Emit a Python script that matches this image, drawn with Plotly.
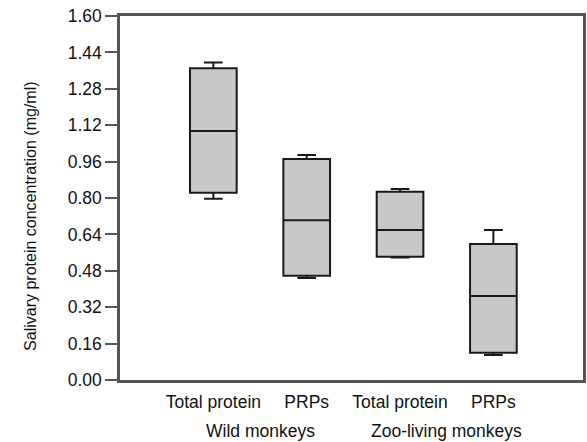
import plotly.graph_objects as go

categories = ["Total protein", "PRPs", "Total protein", "PRPs"]
groups = ["Wild monkeys", "Zoo-living monkeys"]
lower_whisker = [0.797, 0.448, 0.538, 0.110]
q1 = [0.823, 0.458, 0.542, 0.120]
median = [1.094, 0.702, 0.659, 0.369]
q3 = [1.370, 0.971, 0.828, 0.598]
upper_whisker = [1.396, 0.989, 0.840, 0.659]
y_ticks = [0.00, 0.16, 0.32, 0.48, 0.64, 0.80, 0.96, 1.12, 1.28, 1.44, 1.60]

pos = list(range(len(categories)))

fig = go.Figure()
fig.add_trace(go.Box(
    x=pos, q1=q1, median=median, q3=q3,
    lowerfence=lower_whisker, upperfence=upper_whisker,
    width=0.5, whiskerwidth=0.4,
    fillcolor="#c8c8c8", line=dict(color="#1a1a1a", width=2),
    boxpoints=False, showlegend=False,
))

font = "Liberation Sans, Arial, sans-serif"
for i, g in enumerate(groups):
    fig.add_annotation(x=2 * i + 0.5, y=0, xref="x", yref="paper",
                       text=g, showarrow=False, yshift=-51, yanchor="middle",
                       font=dict(family=font, size=17.5, color="#111"))

fig.add_annotation(x=-0.195, y=0.45, xref="paper", yref="paper",
                   text="Salivary protein concentration (mg/ml)", textangle=-90,
                   showarrow=False, xanchor="center", yanchor="middle",
                   font=dict(family=font, size=16, color="#111"))

fig.update_layout(
    width=587, height=442,
    margin=dict(l=120, r=1, t=16, b=62),
    plot_bgcolor="white", paper_bgcolor="white",
    font=dict(family=font, color="#111"),
)
fig.update_xaxes(
    range=[-1.0, 3.96], tickvals=pos, ticktext=categories,
    showline=True, linecolor="#555", linewidth=2.5, mirror=True,
    ticks="", showgrid=False, zeroline=False,
    tickfont=dict(size=17.5), ticklabelstandoff=4,
)
fig.update_yaxes(
    range=[0, 1.6], tickvals=y_ticks, ticktext=[f"{v:.2f}" for v in y_ticks],
    showline=True, linecolor="#555", linewidth=2.5, mirror=True,
    ticks="outside", ticklen=12, tickwidth=2, tickcolor="#555",
    showgrid=False, zeroline=False,
    tickfont=dict(size=17.5),
)
fig.write_html("out.html", config={"displayModeBar": False},
               post_script="document.body.style.margin='0';document.body.style.padding='0';")
